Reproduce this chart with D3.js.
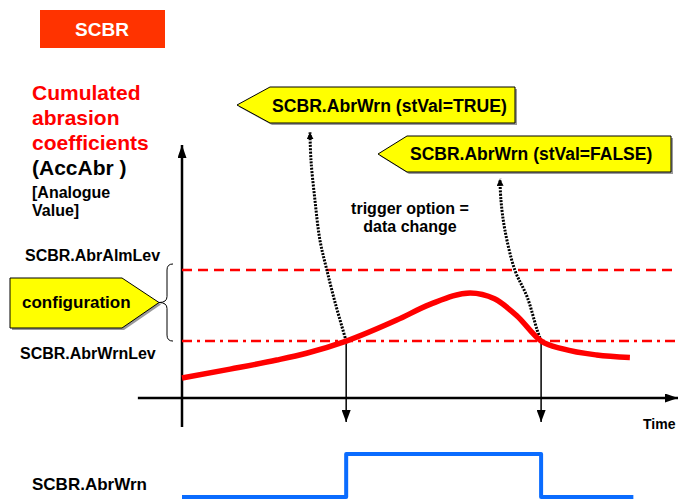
<!DOCTYPE html>
<html>
<head>
<meta charset="utf-8">
<script src="https://cdn.jsdelivr.net/npm/d3@7"></script>
<style>
  html, body { margin: 0; padding: 0; background: #fff; }
  svg { display: block; font-family: "Liberation Sans", Arial, sans-serif; font-weight: bold; }
</style>
</head>
<body>
<script>
// analogue value AccAbr over time (time 0..100, value 0..100)
const curveTime = [0, 9.7, 19.1, 25.1, 33.1, 43.3, 50, 58.1, 63, 67.5, 72.4, 76.8, 83.6, 90.3];
const curveValue = [7.9, 11.4, 15.0, 17.7, 22.5, 30.8, 37.0, 41.5, 39.2, 32.5, 22.5, 19.4, 17.0, 16.0];

const almLev = 50.6;   // SCBR.AbrAlmLev
const wrnLev = 22.5;   // SCBR.AbrWrnLev

const triggerTimes = [33.1, 72.4]; // AbrWrn goes TRUE, then FALSE

// binary SCBR.AbrWrn signal
const signalTime = [0, 33.1, 72.4, 91];
const signalValue = [0, 1, 0, 0];

// dotted connectors from the crossing points up to the callouts
const linkTrue = { t: [33.1, 31.0, 29.2, 27.8, 26.8, 26.0, 25.8], v: [22.5, 36.8, 50.6, 62.5, 78.3, 94.1, 105.0] };
const linkFalse = { t: [72.4, 71.6, 69.6, 67.1, 65.1, 64.3, 64.1], v: [22.5, 26.9, 39.9, 50.6, 66.4, 78.3, 86.6] };

const W = 678, H = 499;

const svg = d3.select("body").append("svg")
  .attr("width", W)
  .attr("height", H)
  .attr("viewBox", `0 0 ${W} ${H}`);

const x = d3.scaleLinear().domain([0, 100]).range([182, 678]);
const y = d3.scaleLinear().domain([0, 100]).range([398, 145]);
const ySig = d3.scaleLinear().domain([0, 1]).range([497, 454]);

const defs = svg.append("defs");
function arrowMarker(id, len, wid) {
  defs.append("marker")
    .attr("id", id)
    .attr("markerUnits", "userSpaceOnUse")
    .attr("viewBox", `0 ${-wid / 2} ${len} ${wid}`)
    .attr("refX", len)
    .attr("refY", 0)
    .attr("markerWidth", len)
    .attr("markerHeight", wid)
    .attr("orient", "auto")
    .append("path")
    .attr("d", `M0,${-wid / 2}L${len},0L0,${wid / 2}Z`)
    .attr("fill", "#000");
}
arrowMarker("axisHead", 13, 9);
arrowMarker("trigHead", 12, 9);
arrowMarker("dotHead", 7, 7);

// title box
svg.append("rect")
  .attr("x", 40).attr("y", 10).attr("width", 125).attr("height", 38)
  .attr("fill", "#ff3300");
svg.append("text")
  .attr("x", 102).attr("y", 36)
  .attr("text-anchor", "middle")
  .attr("fill", "#fff")
  .attr("font-size", 19)
  .text("SCBR");

// y-axis description
const descLines = [
  { text: "Cumulated", y: 100, size: 21, color: "#ff0000" },
  { text: "abrasion", y: 125, size: 21, color: "#ff0000" },
  { text: "coefficients", y: 150, size: 21, color: "#ff0000" },
  { text: "(AccAbr )", y: 175, size: 21, color: "#000" },
  { text: "[Analogue", y: 198, size: 16, color: "#000" },
  { text: "Value]", y: 216, size: 16, color: "#000" },
];
svg.append("g").selectAll("text")
  .data(descLines)
  .join("text")
  .attr("x", 32)
  .attr("y", d => d.y)
  .attr("font-size", d => d.size)
  .attr("fill", d => d.color)
  .attr("xml:space", "preserve")
  .text(d => d.text);

// axes
svg.append("line")
  .attr("x1", x(0)).attr("x2", x(0))
  .attr("y1", y(-11.5)).attr("y2", y(100))
  .attr("stroke", "#000").attr("stroke-width", 2.5)
  .attr("marker-end", "url(#axisHead)");
svg.append("line")
  .attr("x1", x(-8.9)).attr("x2", x(100))
  .attr("y1", y(0)).attr("y2", y(0))
  .attr("stroke", "#000").attr("stroke-width", 2.5)
  .attr("marker-end", "url(#axisHead)");
svg.append("text")
  .attr("x", 643).attr("y", 429)
  .attr("font-size", 14)
  .text("Time");

// level lines
svg.append("line")
  .attr("x1", x(0)).attr("x2", x(100))
  .attr("y1", y(almLev)).attr("y2", y(almLev))
  .attr("stroke", "#ff0000").attr("stroke-width", 2.5)
  .attr("stroke-dasharray", "10,6");
svg.append("line")
  .attr("x1", x(0)).attr("x2", x(100))
  .attr("y1", y(wrnLev)).attr("y2", y(wrnLev))
  .attr("stroke", "#ff0000").attr("stroke-width", 2.5)
  .attr("stroke-dasharray", "10,5,3,5");

svg.append("text").attr("x", 25).attr("y", 261).attr("font-size", 16).text("SCBR.AbrAlmLev");
svg.append("text").attr("x", 20).attr("y", 359).attr("font-size", 16).text("SCBR.AbrWrnLev");

// brace + configuration callout
const yA = y(almLev) - 6, yW = y(wrnLev), yM = (yA + yW) / 2;
svg.append("path")
  .attr("d", `M173,${yA} Q167,${yA} 167,${yA + 6} L167,${yM - 6} Q167,${yM} 159,${yM}` +
             ` Q167,${yM} 167,${yM + 6} L167,${yW - 6} Q167,${yW} 173,${yW}`)
  .attr("fill", "none").attr("stroke", "#000").attr("stroke-width", 1);

function callout(pts, tx, ty, label, size) {
  const g = svg.append("g");
  const d = "M" + pts.map(p => p.join(",")).join("L") + "Z";
  g.append("path").attr("d", d).attr("transform", "translate(2,2)").attr("fill", "#9a9a9a");
  g.append("path").attr("d", d).attr("fill", "#ffff00").attr("stroke", "#000").attr("stroke-width", 1);
  g.append("text").attr("x", tx).attr("y", ty).attr("font-size", size).text(label);
}
callout([[10, 278], [122, 278], [159, yM], [122, 328], [10, 328]], 22, 308, "configuration", 17);
callout([[270, 87], [515, 87], [515, 123], [270, 123], [237, 105]], 272, 112, "SCBR.AbrWrn (stVal=TRUE)", 17.6);
callout([[407, 136], [671, 136], [671, 172], [407, 172], [378, 154]], 410, 160, "SCBR.AbrWrn (stVal=FALSE)", 17.5);

// trigger text
svg.append("text")
  .attr("x", 410).attr("text-anchor", "middle").attr("font-size", 16)
  .selectAll("tspan")
  .data(["trigger option =", "data change"])
  .join("tspan")
  .attr("x", 410)
  .attr("y", (d, i) => 214 + i * 18)
  .text(d => d);

// dotted connectors
const linkLine = d3.line()
  .x(d => x(d[0]))
  .y(d => y(d[1]))
  .curve(d3.curveCatmullRom.alpha(0.5));
[linkTrue, linkFalse].forEach(l => {
  svg.append("path")
    .attr("d", linkLine(l.t.map((t, i) => [t, l.v[i]])))
    .attr("fill", "none")
    .attr("stroke", "#000")
    .attr("stroke-width", 3)
    .attr("stroke-dasharray", "2,1.3")
    .attr("marker-end", "url(#dotHead)");
});

// trigger arrows down to the time axis
svg.append("g").selectAll("line")
  .data(triggerTimes)
  .join("line")
  .attr("x1", d => x(d)).attr("x2", d => x(d))
  .attr("y1", y(wrnLev)).attr("y2", y(-9.5))
  .attr("stroke", "#000").attr("stroke-width", 1.5)
  .attr("marker-end", "url(#trigHead)");

// AccAbr curve
svg.append("path")
  .datum(curveTime.map((t, i) => [t, curveValue[i]]))
  .attr("d", d3.line().x(d => x(d[0])).y(d => y(d[1])).curve(d3.curveMonotoneX))
  .attr("fill", "none")
  .attr("stroke", "#ff0000")
  .attr("stroke-width", 5.5)
  .attr("stroke-linecap", "butt");

// binary signal
svg.append("path")
  .datum(signalTime.map((t, i) => [t, signalValue[i]]))
  .attr("d", d3.line().x(d => x(d[0])).y(d => ySig(d[1])).curve(d3.curveStepAfter))
  .attr("fill", "none")
  .attr("stroke", "#0a6cff")
  .attr("stroke-width", 4)
  .attr("stroke-linejoin", "round");

svg.append("text").attr("x", 32).attr("y", 490).attr("font-size", 17).text("SCBR.AbrWrn");
</script>
</body>
</html>
